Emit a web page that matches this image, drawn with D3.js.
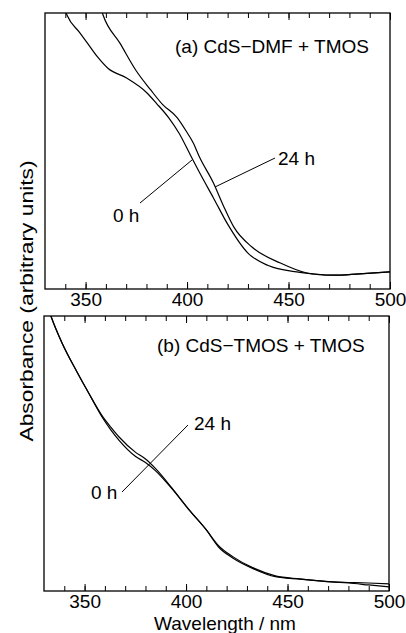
<!DOCTYPE html>
<html lang="en">
<head>
<meta charset="utf-8">
<title>CdS absorbance</title>
<script src="https://d3js.org/d3.v7.min.js"></script>
<style>
  body { margin:0; background:#fff; }
  svg { display:block; }
  text { font-family: "Liberation Sans", Arial, sans-serif; fill:#000; }
  .frame { fill:none; stroke:#000; stroke-width:1.3; }
  .curve { fill:none; stroke:#000; stroke-width:1.2; }
  .lead { stroke:#000; stroke-width:1; }
  .axis path { display:none; }
  .axis line { stroke:#000; stroke-width:1; }
  .axis text { font-size:19px; }
</style>
</head>
<body>
<div id="chart"></div>
<script>
// x ticks
var minorTicks = [340,350,360,370,380,390,400,410,420,430,440,450,460,470,480,490];
var majorTicks = [350,400,450,500];

// (a) CdS-DMF + TMOS
var wlA0 = [339, 341, 347, 351, 356, 361, 370, 380, 385, 391, 396, 402, 407, 413, 420, 430, 440, 454, 462, 472, 485, 500];
var abA0 = [1.03, 0.99, 0.93, 0.89, 0.84, 0.80, 0.765, 0.712, 0.672, 0.62, 0.565, 0.48, 0.41, 0.33, 0.235, 0.13, 0.085, 0.062, 0.055, 0.05, 0.055, 0.062];
var wlA24 = [357, 358.6, 367, 375, 382, 388, 395, 400, 403, 406, 413, 418, 423, 432, 446, 459, 465, 472, 485, 500];
var abA24 = [1.03, 0.993, 0.89, 0.79, 0.722, 0.668, 0.622, 0.567, 0.53, 0.48, 0.384, 0.30, 0.225, 0.152, 0.094, 0.058, 0.052, 0.05, 0.055, 0.062];

// (b) CdS-TMOS + TMOS
var wlB = [332, 333.4, 339, 346, 352, 359, 363, 367, 375, 380, 385, 393, 401.5, 410, 416, 423, 432.5, 444, 456, 472, 480, 490, 500];
var abB0 = [1.03, 1.0, 0.90, 0.80, 0.72, 0.633, 0.595, 0.56, 0.505, 0.48, 0.445, 0.375, 0.295, 0.222, 0.165, 0.125, 0.086, 0.055, 0.044, 0.033, 0.031, 0.029, 0.026];
var abB24 = [1.03, 1.0, 0.90, 0.80, 0.72, 0.628, 0.585, 0.548, 0.49, 0.467, 0.437, 0.372, 0.295, 0.222, 0.16, 0.12, 0.083, 0.052, 0.043, 0.033, 0.029, 0.022, 0.015];

var W = 406, H = 633;
var svg = d3.select("#chart").append("svg").attr("width", W).attr("height", H);

var panels = [
  {id:"a", left:45, right:390, top:13, bottom:289, title:"(a) CdS\u2212DMF + TMOS", tx:175, ty:53,
   series:[[wlA0, abA0],[wlA24, abA24]],
   labels:[{t:"0 h", x:113, y:222},{t:"24 h", x:278, y:165}],
   leads:[[140,203,192,160],[275,158,215,187]]},
  {id:"b", left:44, right:389, top:316, bottom:591, title:"(b) CdS\u2212TMOS + TMOS", tx:157, ty:352,
   series:[[wlB, abB0],[wlB, abB24]],
   labels:[{t:"0 h", x:91, y:499},{t:"24 h", x:194, y:430}],
   leads:[[122,492,188,425]]}
];

panels.forEach(function(p) {
  var x = d3.scaleLinear().domain([330, 500]).range([p.left, p.right]);
  var y = d3.scaleLinear().domain([0, 1]).range([p.bottom, p.top]);
  var g = svg.append("g");

  g.append("clipPath").attr("id", "clip" + p.id)
    .append("rect").attr("x", p.left).attr("y", p.top)
    .attr("width", p.right - p.left).attr("height", p.bottom - p.top);

  var line = d3.line().curve(d3.curveMonotoneX)
    .x(function(d) { return x(d[0]); })
    .y(function(d) { return y(d[1]); });

  p.series.forEach(function(s) {
    var pts = s[0].map(function(w, i) { return [w, s[1][i]]; });
    g.append("path").attr("class", "curve")
      .attr("clip-path", "url(#clip" + p.id + ")")
      .attr("d", line(pts));
  });

  // ticks, inward on top and bottom edges
  g.append("g").attr("class", "axis")
    .attr("transform", "translate(0," + p.bottom + ")")
    .call(d3.axisBottom(x).tickValues(minorTicks).tickSize(-5).tickFormat(""));
  g.append("g").attr("class", "axis")
    .attr("transform", "translate(0," + p.bottom + ")")
    .call(d3.axisBottom(x).tickValues(majorTicks).tickSize(-7).tickPadding(4));
  g.append("g").attr("class", "axis")
    .attr("transform", "translate(0," + p.top + ")")
    .call(d3.axisTop(x).tickValues(minorTicks).tickSize(-5).tickFormat(""));
  g.append("g").attr("class", "axis")
    .attr("transform", "translate(0," + p.top + ")")
    .call(d3.axisTop(x).tickValues(majorTicks).tickSize(-7).tickFormat(""));

  g.append("rect").attr("class", "frame")
    .attr("x", p.left).attr("y", p.top)
    .attr("width", p.right - p.left).attr("height", p.bottom - p.top);

  g.append("text").attr("x", p.tx).attr("y", p.ty)
    .style("font-size", "19px").text(p.title);

  p.labels.forEach(function(l) {
    g.append("text").attr("x", l.x).attr("y", l.y).style("font-size", "19px").text(l.t);
  });
  p.leads.forEach(function(l) {
    g.append("line").attr("class", "lead")
      .attr("x1", l[0]).attr("y1", l[1]).attr("x2", l[2]).attr("y2", l[3]);
  });
});

svg.append("text")
  .attr("transform", "translate(33,301) rotate(-90) scale(1.2,1)")
  .attr("text-anchor", "middle")
  .style("font-size", "19px")
  .text("Absorbance (arbitrary units)");

svg.append("text")
  .attr("x", 225).attr("y", 630)
  .attr("text-anchor", "middle")
  .style("font-size", "19px")
  .text("Wavelength / nm");
</script>
</body>
</html>
